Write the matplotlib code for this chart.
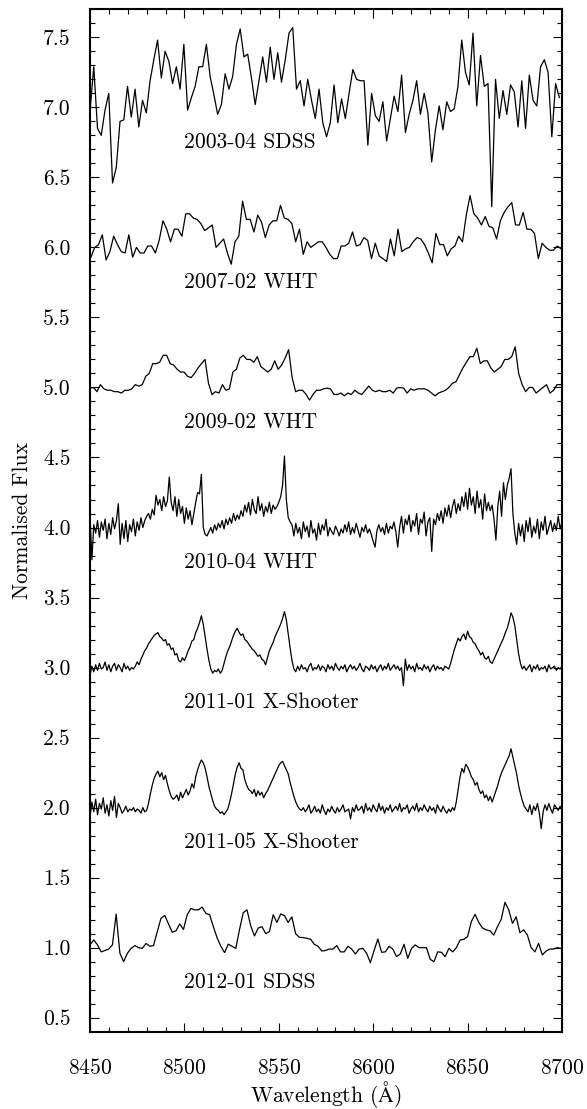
import numpy as np
import matplotlib
matplotlib.use("Agg")
import matplotlib.pyplot as plt

plt.rcParams['font.family'] = 'serif'
plt.rcParams['font.serif'] = ['cmr10']
plt.rcParams['mathtext.fontset'] = 'cm'
plt.rcParams['axes.formatter.use_mathtext'] = True

# ---- spectra (normalised flux, already offset) ----
sdss_2003 = [6.97, 7.29, 6.85, 6.80, 6.98, 7.10, 6.46, 6.57, 6.90, 6.91,
             7.15, 6.93, 7.13, 6.86, 7.05, 6.96, 7.19, 7.34, 7.48, 7.21,
             7.40, 7.33, 7.17, 7.29, 7.13, 7.45, 6.98, 7.07, 7.15, 7.29,
             7.29, 7.45, 7.22, 7.09, 6.95, 7.02, 7.24, 7.13, 7.22, 7.45,
             7.56, 7.36, 7.38, 7.21, 7.02, 7.19, 7.36, 7.18, 7.43, 7.20,
             7.39, 7.18, 7.34, 7.53, 7.57, 7.13, 7.19, 7.01, 7.20, 7.05,
             6.92, 7.13, 6.89, 6.79, 6.89, 7.16, 6.89, 7.06, 6.92, 7.10,
             7.27, 7.20, 7.19, 7.19, 6.73, 7.10, 6.94, 6.90, 7.04, 6.76,
             6.92, 7.08, 6.97, 7.23, 6.82, 6.95, 7.05, 7.19, 6.95, 7.10,
             6.96, 6.61, 6.84, 7.01, 6.84, 7.04, 6.97, 6.99, 7.15, 7.48,
             7.25, 7.16, 7.53, 7.01, 7.37, 7.15, 7.17, 6.29, 7.20, 6.92,
             7.12, 6.95, 7.16, 7.11, 6.86, 7.19, 6.85, 7.23, 7.05, 7.01,
             7.29, 7.34, 7.25, 6.79, 7.17, 7.07]

wht_2007 = [5.93, 6.00, 6.02, 6.09, 5.91, 5.97, 6.08, 6.02, 5.97, 5.96,
            6.09, 5.93, 6.00, 5.96, 5.96, 6.01, 6.01, 5.96, 6.05, 6.19,
            6.13, 6.04, 6.13, 6.13, 6.08, 6.24, 6.24, 6.21, 6.20, 6.17,
            6.12, 6.14, 6.16, 6.00, 6.03, 6.06, 5.96, 5.88, 6.04, 6.08,
            6.33, 6.20, 6.20, 6.11, 6.23, 6.18, 6.07, 6.16, 6.19, 6.19,
            6.30, 6.21, 6.20, 6.17, 6.04, 6.13, 5.95, 6.04, 6.00, 6.02,
            6.04, 6.04, 6.00, 5.95, 5.92, 5.92, 6.01, 6.01, 6.03, 6.11,
            6.01, 6.02, 6.07, 6.05, 5.92, 6.03, 5.94, 5.92, 5.90, 6.06,
            5.94, 6.13, 5.97, 5.99, 6.00, 6.04, 6.07, 6.06, 6.02, 5.96,
            5.89, 6.10, 6.02, 6.02, 5.94, 5.99, 6.01, 6.08, 6.04, 6.23,
            6.37, 6.24, 6.21, 6.16, 6.22, 6.15, 6.14, 6.06, 6.19, 6.25,
            6.29, 6.32, 6.16, 6.16, 6.25, 6.13, 6.13, 6.10, 5.92, 6.03,
            6.00, 5.98, 5.98, 6.01, 5.99]

wht_2009 = [4.995, 5.00, 4.97, 5.02, 4.99, 4.98, 4.98, 4.97, 4.97, 4.96,
            4.98, 4.98, 4.99, 5.02, 5.01, 5.02, 5.08, 5.10, 5.17, 5.17,
            5.18, 5.23, 5.23, 5.17, 5.16, 5.13, 5.11, 5.11, 5.08, 5.07,
            5.10, 5.14, 5.17, 5.20, 5.03, 4.95, 4.97, 4.96, 5.02, 4.98,
            4.99, 5.11, 5.13, 5.21, 5.23, 5.20, 5.20, 5.18, 5.22, 5.15,
            5.13, 5.11, 5.13, 5.19, 5.13, 5.16, 5.21, 5.27, 5.07, 4.97,
            4.98, 4.98, 4.95, 4.91, 4.95, 4.98, 4.98, 4.99, 4.995, 4.99,
            4.95, 4.95, 4.96, 4.94, 4.96, 4.95, 4.98, 4.96, 4.95, 4.98,
            5.01, 4.98, 4.97, 4.98, 4.97, 4.97, 4.98, 4.96, 4.995, 5.00,
            4.995, 4.96, 4.99, 4.98, 4.99, 4.99, 4.99, 4.98, 4.96, 4.94,
            4.96, 4.97, 4.98, 5.00, 5.03, 5.04, 5.09, 5.14, 5.18, 5.22,
            5.22, 5.28, 5.17, 5.19, 5.19, 5.14, 5.11, 5.13, 5.15, 5.20,
            5.20, 5.22, 5.29, 5.10, 5.02, 4.97, 5.00, 5.00, 4.96, 4.98,
            5.00, 5.02, 4.96, 4.98, 5.02, 5.02]

wht_2010 = [4.09, 3.77, 4.02,
            3.96, 4.05, 3.93, 4.04, 3.98, 4.06, 3.92, 4.03, 3.95, 4.07, 3.99, 4.05,
            4.17, 3.88,
            4.03, 3.92, 4.05, 3.90, 4.02, 3.97, 4.06, 3.94, 4.04, 3.98, 4.07, 4.00, 4.05, 4.08, 4.10,
            4.06, 4.13, 4.09, 4.23,
            4.16, 4.20, 4.12, 4.22, 4.15, 4.19,
            4.36,
            4.18, 4.12, 4.22, 4.08, 4.20, 4.10, 4.15, 4.03, 4.14, 4.06, 4.12, 4.02, 4.10,
            4.18, 4.25, 4.24,
            4.38,
            4.00, 3.95, 3.94,
            3.97, 4.00, 3.96, 4.02, 3.98, 4.03, 4.00, 4.05, 3.99, 4.06, 4.02, 4.07, 4.03, 4.10,
            4.05, 4.09, 4.06, 4.12,
            4.08, 4.16, 4.11, 4.18, 4.09, 4.20, 4.13, 4.10, 4.22, 4.12, 4.17, 4.08, 4.15, 4.11,
            4.18, 4.10, 4.16, 4.13, 4.15, 4.18,
            4.22, 4.30, 4.51,
            4.20, 4.07, 4.04,
            4.02, 3.94, 4.03, 3.96, 4.00, 3.92, 4.04, 3.97, 4.01, 3.93, 4.05, 3.96, 3.99, 3.91,
            4.03, 3.95, 4.02, 3.98, 4.06, 3.94, 4.00, 3.97, 3.95, 4.01,
            3.98, 3.94, 3.99, 3.96, 4.02, 3.97, 4.04, 3.95, 4.00, 3.96, 4.03, 3.98, 3.93, 4.00,
            3.97, 4.02, 3.96, 3.99, 3.95, 3.90, 3.86, 3.98, 4.02, 3.97, 4.00, 3.95, 4.03, 3.96,
            4.01, 3.99,
            4.04, 3.97, 3.86, 4.00, 4.08, 3.96, 4.06, 4.02, 4.09, 3.97, 4.05, 4.01, 4.10, 3.95,
            4.06, 4.03, 4.11, 3.94, 4.04, 4.07,
            3.83,
            4.06, 4.02, 4.10, 4.05, 4.12, 4.03, 4.14, 4.08, 4.16, 4.07, 4.15, 4.20, 4.10, 4.17,
            4.12, 4.22, 4.15,
            4.25, 4.13, 4.28, 4.16, 4.22, 4.10, 4.26, 4.14, 4.20, 4.06, 4.24, 4.12,
            4.18, 4.12, 4.16, 4.06,
            3.91,
            4.15, 4.26, 4.08, 4.32, 4.20, 4.30, 4.35,
            4.42,
            4.10, 3.96, 3.88,
            4.03, 3.94, 4.02, 3.90, 4.05, 3.97, 4.07, 3.93, 4.01, 3.96, 4.06, 3.92, 4.04, 3.98,
            4.08, 3.95, 4.00, 4.05, 3.97, 4.03, 3.98, 4.08, 3.99, 4.04]

xsh_2011a = [2.94, 3.01, 2.97, 3.02, 2.98, 3.03, 2.99, 3.00, 3.04, 2.98, 3.02, 2.97, 3.01,
             3.03, 2.98, 3.02, 3.00, 2.97, 3.03, 2.99, 3.01, 2.98, 3.00, 2.99, 3.01,
             3.04, 3.02, 3.06, 3.09, 3.12, 3.14, 3.17, 3.19, 3.21, 3.23, 3.24,
             3.25, 3.22, 3.21, 3.19, 3.20, 3.16, 3.17, 3.13, 3.14, 3.09, 3.10,
             3.05, 3.04, 3.07, 3.05, 3.08,
             3.12, 3.15, 3.19, 3.20, 3.25, 3.28, 3.32, 3.37,
             3.31, 3.22, 3.13, 3.05, 2.99, 2.96,
             2.98, 2.97, 2.99, 2.96, 2.98,
             3.03, 3.08, 3.12, 3.15, 3.19, 3.23, 3.26, 3.28,
             3.25, 3.23, 3.24, 3.20, 3.19, 3.17, 3.15, 3.13, 3.12, 3.10, 3.08, 3.09, 3.06, 3.05, 3.02,
             3.07, 3.12, 3.15, 3.18, 3.22, 3.25, 3.28, 3.31, 3.35, 3.40,
             3.34, 3.24, 3.14, 3.05, 2.99, 2.97,
             3.01, 2.98, 3.02, 2.99, 3.00, 2.97, 3.01, 3.03, 2.98, 3.00, 2.99, 3.02, 2.98, 3.01,
             3.00, 2.97, 3.02, 2.99, 3.01, 2.98, 3.03, 3.00, 2.98, 3.01, 2.99, 3.02, 2.97, 3.00,
             3.02, 2.99, 3.01, 2.98, 3.00, 3.03, 2.99, 2.97, 3.01, 3.00, 2.98, 3.02, 2.99, 3.01,
             2.97, 3.00, 3.02, 2.98, 3.01, 2.99, 3.03, 2.98, 3.00, 3.02, 2.99, 3.01, 2.98, 3.00,
             2.87, 3.06,
             2.98, 3.02, 2.99, 3.01, 2.97, 3.03, 2.99, 3.00, 2.98, 3.02, 2.99, 3.01, 2.97, 3.00,
             3.02, 2.98, 3.01, 2.99, 3.00, 2.98, 3.01, 3.00, 2.99,
             3.03, 3.08, 3.13, 3.17, 3.21, 3.19, 3.22, 3.24, 3.20, 3.26,
             3.22, 3.21, 3.18, 3.17, 3.14, 3.12, 3.09, 3.11, 3.07, 3.06, 3.08, 3.04, 3.03,
             3.06, 3.09, 3.12, 3.15, 3.18, 3.21, 3.25, 3.28, 3.33, 3.39,
             3.36, 3.30, 3.20, 3.10, 3.03, 2.99,
             3.01, 2.98, 3.00, 3.02, 2.97, 3.01, 2.99, 3.02, 2.98, 3.00, 2.99, 3.01, 2.97, 3.02,
             2.99, 3.00, 3.01, 2.98, 3.00, 2.99, 3.01]

xsh_2011b = [1.93, 2.04, 1.97, 2.06, 1.95, 2.03, 1.99, 2.07, 1.96, 2.02, 1.94, 2.05, 1.98, 2.08,
             1.93, 2.03,
             2.00, 1.96, 1.98, 2.01, 1.97, 1.99, 1.98, 2.00, 1.97, 1.99, 1.98, 1.96, 2.00, 1.97, 1.98,
             2.03, 2.10, 2.16, 2.21, 2.24,
             2.26, 2.22, 2.25, 2.20, 2.23,
             2.17, 2.12, 2.08, 2.06, 2.07,
             2.09, 2.05, 2.11, 2.07, 2.10, 2.13, 2.09, 2.12, 2.17, 2.14,
             2.22, 2.27, 2.31, 2.34,
             2.32, 2.28, 2.22, 2.15, 2.10, 2.05, 2.01, 1.99, 1.98,
             1.96, 1.97, 1.95, 1.97, 1.99,
             2.04, 2.10, 2.17, 2.24, 2.29, 2.32, 2.28,
             2.27, 2.20, 2.16, 2.13, 2.12,
             2.10, 2.13, 2.08, 2.12, 2.09, 2.11, 2.07, 2.10, 2.12,
             2.15, 2.18, 2.21, 2.24, 2.27, 2.30, 2.32, 2.33, 2.30,
             2.27, 2.24, 2.18, 2.13, 2.08, 2.04, 2.01, 1.99, 1.98,
             2.00, 1.97, 1.99, 2.02, 1.96, 1.98, 2.01, 1.97, 1.99, 1.96, 2.02, 1.98, 1.95, 1.99,
             1.97, 2.01, 1.98, 1.96, 2.00, 1.97, 1.99, 2.02, 1.97, 1.98, 1.99,
             1.92,
             2.00, 1.97, 2.02, 1.98, 1.99, 2.01, 1.96, 2.03, 1.98, 2.00, 1.97, 2.02, 1.99, 1.97,
             2.03, 1.98, 2.01, 1.96, 2.00, 1.98, 2.02, 1.97, 1.99, 2.01, 1.98, 2.03, 1.97, 2.00,
             1.99, 2.02, 1.96, 1.99, 2.01, 1.98, 2.03, 1.97, 2.00, 1.98, 2.02, 1.99, 1.97, 2.01,
             1.98, 2.00, 1.96, 2.02, 1.99, 1.97, 2.01, 1.98, 1.96, 1.99, 1.97, 2.00, 1.98,
             2.04, 2.13, 2.22, 2.28, 2.25, 2.31, 2.29,
             2.26, 2.22, 2.20, 2.16, 2.18, 2.13, 2.10, 2.12, 2.07, 2.09, 2.05, 2.08, 2.04,
             2.08, 2.12, 2.16, 2.21, 2.25, 2.28, 2.31, 2.34, 2.37, 2.42, 2.36,
             2.30, 2.24, 2.16, 2.10, 2.05, 2.01, 1.99,
             1.97, 2.02, 1.95, 2.01, 1.98, 2.03, 1.96, 1.85, 1.97, 2.02, 1.98, 2.03, 1.99, 1.96,
             2.02, 2.00, 1.98, 2.01, 1.98]

sdss_2012 = [1.02, 1.055, 1.02, 0.97, 0.98, 0.99, 1.02, 1.24, 0.96, 0.90,
             0.96, 0.995, 1.015, 1.00, 0.995, 1.03, 1.01, 1.015, 1.115, 1.21,
             1.23, 1.17, 1.11, 1.12, 1.17, 1.13, 1.235, 1.28, 1.27, 1.27,
             1.29, 1.245, 1.235, 1.15, 1.07, 1.01, 0.965, 1.025, 1.01, 0.995,
             1.13, 1.25, 1.27, 1.155, 1.084, 1.14, 1.15, 1.10, 1.115, 1.235,
             1.18, 1.24, 1.23, 1.18, 1.22, 1.10, 1.074, 1.072, 1.067, 1.06,
             1.024, 1.01, 0.976, 0.98, 0.99, 0.99, 1.015, 0.97, 0.97, 1.01,
             0.99, 0.955, 0.99, 0.995, 0.96, 0.893, 0.98, 1.062, 0.967, 0.97,
             1.01, 0.99, 0.936, 0.955, 1.024, 0.924, 0.995, 1.02, 1.00, 1.00,
             1.00, 0.917, 0.90, 0.97, 0.967, 0.936, 0.995, 0.97, 1.00, 1.055,
             1.06, 1.079, 1.186, 1.238, 1.18, 1.14, 1.127, 1.12, 1.09, 1.15,
             1.203, 1.324, 1.27, 1.174, 1.22, 1.107, 1.127, 1.09, 1.00, 0.97,
             1.03, 0.948, 0.976, 0.99, 0.99, 1.00, 0.995]

spectra = [sdss_2003, wht_2007, wht_2009, wht_2010, xsh_2011a, xsh_2011b, sdss_2012]
# wavelength coverage of each sampled series (start, end) in Angstrom
ranges = [(8450, 8698.6), (8450.5, 8699.5), (8450, 8699.2), (8450, 8700),
          (8450, 8700), (8450, 8700), (8450, 8699.5)]
labels = ['2003-04 SDSS', '2007-02 WHT', '2009-02 WHT', '2010-04 WHT',
          '2011-01 X-Shooter', '2011-05 X-Shooter', '2012-01 SDSS']
label_y = [6.75, 5.75, 4.75, 3.75, 2.75, 1.75, 0.75]

fig = plt.figure(figsize=(5.87, 11.09), dpi=100)
ax = fig.add_axes([0.1533, 0.0697, 0.8041, 0.9219])

for flux, (w0, w1), lab, ly in zip(spectra, ranges, labels, label_y):
    wave = np.linspace(w0, w1, len(flux))
    ax.plot(wave, flux, color='black', lw=0.9)
    ax.text(8500, ly, lab, fontsize=15.5, ha='left', va='center')

ax.set_xlim(8450, 8700)
ax.set_ylim(0.4, 7.7)
ax.set_xticks(np.arange(8450, 8701, 50))
ax.set_xticks(np.arange(8450, 8701, 10), minor=True)
ax.set_yticks(np.arange(0.5, 7.51, 0.5))
ax.set_yticks(np.arange(0.5, 7.71, 0.1), minor=True)
ax.yaxis.set_major_formatter(matplotlib.ticker.FormatStrFormatter('%.1f'))

ax.tick_params(which='both', direction='in', top=True, right=True, labelsize=15.5)
ax.tick_params(which='major', length=6.5, width=0.8)
ax.tick_params(axis='y', which='major', pad=14)
ax.tick_params(axis='x', which='major', pad=19)
ax.tick_params(which='minor', length=3.6, width=0.8)
for sp in ax.spines.values():
    sp.set_linewidth(1.5)

ax.set_xlabel(r'Wavelength ($\mathrm{\AA}$)', fontsize=15.5, labelpad=1)
ax.set_ylabel('Normalised Flux', fontsize=15.5, labelpad=8)

fig.savefig('out.png', dpi=100)
